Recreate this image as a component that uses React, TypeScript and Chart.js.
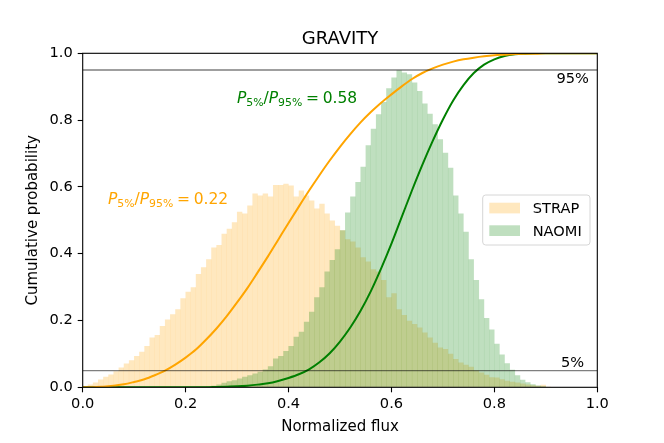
import { useEffect, useRef } from "react";
import { Chart, registerables } from "chart.js";

Chart.register(...registerables);

// ---- data ----
const BIN_CENTERS = Array.from({ length: 100 }, (_, i) => (i + 0.5) / 100);

const STRAP_HIST = [
  0.002, 0.008, 0.014, 0.023, 0.031, 0.038, 0.048, 0.059, 0.071, 0.081,
  0.093, 0.106, 0.123, 0.149, 0.156, 0.183, 0.203, 0.218, 0.233, 0.266,
  0.286, 0.299, 0.339, 0.359, 0.383, 0.418, 0.426, 0.459, 0.474, 0.494,
  0.525, 0.52, 0.544, 0.58, 0.574, 0.58, 0.571, 0.605, 0.605, 0.609,
  0.604, 0.571, 0.589, 0.574, 0.559, 0.535, 0.549, 0.52, 0.499, 0.483,
  0.47, 0.443, 0.436, 0.418, 0.389, 0.376, 0.353, 0.346, 0.321, 0.269,
  0.281, 0.233, 0.216, 0.199, 0.189, 0.179, 0.164, 0.149, 0.133, 0.119,
  0.114, 0.1, 0.084, 0.074, 0.067, 0.061, 0.05, 0.044, 0.037, 0.03,
  0.029, 0.024, 0.019, 0.016, 0.014, 0.011, 0.008, 0.006, 0.004, 0.007,
  0.001, 0, 0, 0, 0, 0, 0, 0, 0, 0,
];

const NAOMI_HIST = [
  0, 0, 0, 0, 0, 0, 0, 0, 0, 0,
  0, 0, 0, 0, 0, 0, 0, 0, 0, 0,
  0.001, 0.001, 0.002, 0.002, 0.003, 0.004, 0.008, 0.013, 0.018, 0.021,
  0.026, 0.031, 0.036, 0.041, 0.046, 0.053, 0.063, 0.086, 0.093, 0.108,
  0.123, 0.151, 0.166, 0.196, 0.226, 0.269, 0.299, 0.346, 0.381, 0.413,
  0.47, 0.523, 0.571, 0.614, 0.66, 0.724, 0.774, 0.817, 0.854, 0.895,
  0.927, 0.949, 0.942, 0.937, 0.912, 0.887, 0.849, 0.819, 0.787, 0.742,
  0.702, 0.657, 0.574, 0.52, 0.465, 0.383, 0.321, 0.263, 0.207, 0.173,
  0.13, 0.098, 0.072, 0.052, 0.036, 0.022, 0.015, 0.009, 0.005, 0.003,
  0, 0, 0, 0, 0, 0, 0, 0, 0, 0,
];

const CDF_X = [
  0.0, 0.02, 0.04, 0.06, 0.08, 0.1, 0.12, 0.14, 0.16, 0.18,
  0.2, 0.22, 0.24, 0.26, 0.28, 0.3, 0.32, 0.34, 0.36, 0.38,
  0.4, 0.42, 0.44, 0.46, 0.48, 0.5, 0.52, 0.54, 0.56, 0.58,
  0.6, 0.62, 0.64, 0.66, 0.68, 0.7, 0.72, 0.74, 0.76, 0.78,
  0.8, 0.82, 0.84, 0.86, 0.88, 0.9, 0.92, 0.94, 0.96, 0.98, 1.0,
];

const STRAP_CDF = [
  0.0, 0.0, 0.002, 0.005, 0.009, 0.016, 0.024, 0.036, 0.05, 0.068,
  0.089, 0.113, 0.143, 0.176, 0.213, 0.254, 0.297, 0.344, 0.392, 0.442,
  0.492, 0.541, 0.589, 0.635, 0.679, 0.72, 0.758, 0.793, 0.824, 0.852,
  0.877, 0.901, 0.923, 0.941, 0.955, 0.966, 0.975, 0.982, 0.987, 0.991,
  0.994, 0.996, 0.998, 0.999, 0.999, 1.0, 1.0, 1.0, 1.0, 1.0, 1.0,
];

const NAOMI_CDF = [
  0, 0, 0, 0, 0, 0, 0, 0, 0, 0,
  0, 0, 0, 0.001, 0.002, 0.003, 0.005, 0.008, 0.012, 0.019,
  0.028, 0.039, 0.054, 0.075, 0.102, 0.137, 0.179, 0.229, 0.288, 0.356,
  0.43, 0.51, 0.59, 0.666, 0.737, 0.802, 0.859, 0.905, 0.941, 0.966,
  0.982, 0.992, 0.997, 0.999, 1.0, 1.0, 1.0, 1.0, 1.0, 1.0, 1.0,
];

const X_TICKS = [0, 0.2, 0.4, 0.6, 0.8, 1.0];
const Y_TICKS = [0, 0.2, 0.4, 0.6, 0.8, 1.0];
const LEVELS = [0.05, 0.95];
const LEVEL_LABELS = ["5%", "95%"];
const SERIES_LABELS = ["STRAP", "NAOMI"];
const RATIO_VALUES = ["0.22", "0.58"];
const TITLE = "GRAVITY";
const X_LABEL = "Normalized flux";
const Y_LABEL = "Cumulative probability";

// ---- styles ----
const FONT = '"DejaVu Sans", "Liberation Sans", sans-serif';
const ORANGE = "#FFA500";
const GREEN = "#008000";
const ORANGE_FILL = "rgba(255,165,0,0.25)";
const GREEN_FILL = "rgba(0,128,0,0.25)";

function drawRatio(
  ctx: CanvasRenderingContext2D,
  x: number,
  y: number,
  color: string,
  value: string,
  size: number
) {
  const sub = size * 0.7;
  const italic = `italic ${size}px ${FONT}`;
  const normal = `${size}px ${FONT}`;
  const small = `${sub}px ${FONT}`;
  ctx.save();
  ctx.fillStyle = color;
  ctx.textAlign = "left";
  ctx.textBaseline = "alphabetic";
  let cx = x;
  const put = (t: string, f: string, dy = 0) => {
    ctx.font = f;
    ctx.fillText(t, cx, y + dy);
    cx += ctx.measureText(t).width;
  };
  put("P", italic);
  put("5%", small, size * 0.2);
  put("/", normal);
  put("P", italic);
  put("95%", small, size * 0.2);
  cx += size * 0.24;
  put("=", normal);
  cx += size * 0.24;
  put(value, normal);
  ctx.restore();
}

const decorPlugin = {
  id: "decor",
  afterDraw(chart: any) {
    const ctx: CanvasRenderingContext2D = chart.ctx;
    const { left, right, top, bottom } = chart.chartArea;
    const xs = chart.scales.x;
    const ys = chart.scales.y;
    ctx.save();
    // spines
    ctx.strokeStyle = "#000";
    ctx.lineWidth = 1.1;
    ctx.strokeRect(left, top, right - left, bottom - top);

    // title
    ctx.fillStyle = "#000";
    ctx.textAlign = "center";
    ctx.textBaseline = "alphabetic";
    ctx.font = `18px ${FONT}`;
    ctx.fillText(TITLE, (left + right) / 2, 44.3);

    // axis labels
    ctx.font = `15px ${FONT}`;
    ctx.fillText(X_LABEL, (left + right) / 2, 430.7);
    ctx.save();
    ctx.translate(37.3, (top + bottom) / 2);
    ctx.rotate(-Math.PI / 2);
    ctx.fillText(Y_LABEL, 0, 0);
    ctx.restore();

    // level labels
    ctx.font = `14.6px ${FONT}`;
    ctx.textAlign = "center";
    const lx = xs.getPixelForValue(0.952);
    ctx.textBaseline = "top";
    ctx.fillText(LEVEL_LABELS[1], lx, ys.getPixelForValue(LEVELS[1]) + 2);
    ctx.textBaseline = "alphabetic";
    ctx.fillText(LEVEL_LABELS[0], lx, ys.getPixelForValue(LEVELS[0]) - 3.6);

    // ratio annotations
    drawRatio(ctx, 108, 204, ORANGE, RATIO_VALUES[0], 15.5);
    drawRatio(ctx, 237, 103.3, GREEN, RATIO_VALUES[1], 15.5);

    // legend
    const bx = 482.7, by = 195, bw = 107.3, bh = 50;
    ctx.beginPath();
    const r = 3;
    ctx.moveTo(bx + r, by);
    ctx.lineTo(bx + bw - r, by);
    ctx.quadraticCurveTo(bx + bw, by, bx + bw, by + r);
    ctx.lineTo(bx + bw, by + bh - r);
    ctx.quadraticCurveTo(bx + bw, by + bh, bx + bw - r, by + bh);
    ctx.lineTo(bx + r, by + bh);
    ctx.quadraticCurveTo(bx, by + bh, bx, by + bh - r);
    ctx.lineTo(bx, by + r);
    ctx.quadraticCurveTo(bx, by, bx + r, by);
    ctx.closePath();
    ctx.fillStyle = "rgba(255,255,255,0.8)";
    ctx.fill();
    ctx.strokeStyle = "#d6d6d6";
    ctx.lineWidth = 1;
    ctx.stroke();

    const fills = [ORANGE_FILL, GREEN_FILL];
    const swY = [202.7, 225.3];
    const txY = [213.3, 236];
    ctx.font = `14.6px ${FONT}`;
    ctx.textAlign = "left";
    ctx.textBaseline = "alphabetic";
    for (let i = 0; i < 2; i++) {
      ctx.fillStyle = fills[i];
      ctx.fillRect(489.3, swY[i], 30.7, 10.7);
      ctx.fillStyle = "#000";
      ctx.fillText(SERIES_LABELS[i], 532.7, txY[i]);
    }
    ctx.restore();
  },
};

export default function App() {
  const ref = useRef<HTMLCanvasElement | null>(null);

  useEffect(() => {
    document.body.style.margin = "0";
    const canvas = ref.current;
    if (!canvas) return;

    const barData = (vals: number[]) =>
      vals.map((v, i) => ({ x: BIN_CENTERS[i], y: v }));
    const lineData = (vals: number[]) =>
      vals.map((v, i) => ({ x: CDF_X[i], y: v }));
    const levelData = (lv: number) => [
      { x: X_TICKS[0], y: lv },
      { x: X_TICKS[X_TICKS.length - 1], y: lv },
    ];

    const tickFont = { family: FONT, size: 14.6 };

    const chart = new Chart(canvas, {
      type: "bar",
      data: {
        datasets: [
          ...LEVELS.map((lv) => ({
            type: "line" as const,
            label: "level",
            data: levelData(lv),
            borderColor: "rgba(0,0,0,0.5)",
            borderWidth: 1.3,
            pointRadius: 0,
            order: 0,
          })),
          {
            type: "line" as const,
            label: "STRAP CDF",
            data: lineData(STRAP_CDF),
            borderColor: ORANGE,
            borderWidth: 2,
            pointRadius: 0,
            cubicInterpolationMode: "monotone" as const,
            order: 1,
          },
          {
            type: "line" as const,
            label: "NAOMI CDF",
            data: lineData(NAOMI_CDF),
            borderColor: GREEN,
            borderWidth: 2,
            pointRadius: 0,
            cubicInterpolationMode: "monotone" as const,
            order: 1,
          },
          {
            type: "bar" as const,
            label: SERIES_LABELS[1],
            data: barData(NAOMI_HIST),
            backgroundColor: GREEN_FILL,
            borderWidth: 0,
            barPercentage: 1,
            categoryPercentage: 1,
            inflateAmount: 0.12,
            grouped: false,
            order: 2,
          },
          {
            type: "bar" as const,
            label: SERIES_LABELS[0],
            data: barData(STRAP_HIST),
            backgroundColor: ORANGE_FILL,
            borderWidth: 0,
            barPercentage: 1,
            categoryPercentage: 1,
            inflateAmount: 0.12,
            grouped: false,
            order: 3,
          },
        ] as any,
      },
      options: {
        responsive: false,
        animation: false,
        events: [],
        layout: { padding: { left: 0, right: 66.7, top: 53.3, bottom: 0 } },
        plugins: {
          legend: { display: false },
          title: { display: false },
          tooltip: { enabled: false },
        },
        scales: {
          x: {
            type: "linear",
            min: 0,
            max: 1,
            offset: false,
            afterFit: (s: any) => {
              s.height = 443 - 387.3;
            },
            afterBuildTicks: (s: any) => {
              s.ticks = X_TICKS.map((v) => ({ value: v }));
            },
            ticks: {
              font: tickFont,
              color: "#000",
              padding: 3,
              maxRotation: 0,
              callback: (v: any) => Number(v).toFixed(1),
            },
            grid: {
              offset: false,
              drawOnChartArea: false,
              drawTicks: true,
              tickLength: 5,
              tickColor: "#000",
              tickWidth: 1.1,
            },
            border: { display: false },
          },
          y: {
            type: "linear",
            min: 0,
            max: 1,
            afterFit: (s: any) => {
              s.width = 82.7;
            },
            afterBuildTicks: (s: any) => {
              s.ticks = Y_TICKS.map((v) => ({ value: v }));
            },
            ticks: {
              font: tickFont,
              color: "#000",
              padding: 5,
              callback: (v: any) => Number(v).toFixed(1),
            },
            grid: {
              drawOnChartArea: false,
              drawTicks: true,
              tickLength: 5,
              tickColor: "#000",
              tickWidth: 1.1,
            },
            border: { display: false },
          },
        },
      } as any,
      plugins: [decorPlugin],
    });

    return () => chart.destroy();
  }, []);

  return (
    <canvas
      ref={ref}
      width={664}
      height={443}
      style={{ display: "block", width: 664, height: 443 }}
    />
  );
}
